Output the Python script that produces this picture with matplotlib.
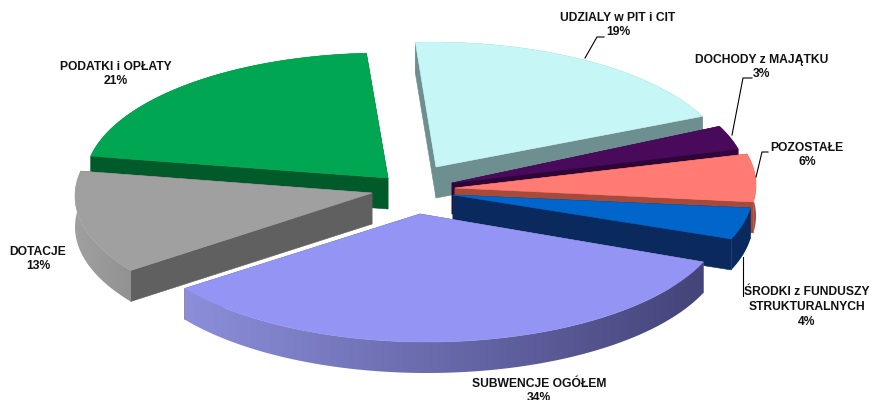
import numpy as np
import matplotlib
matplotlib.use('Agg')
import matplotlib.pyplot as plt
from matplotlib.colors import to_rgb
from matplotlib.patches import Polygon

plt.rcParams['font.family'] = ['Liberation Sans', 'DejaVu Sans']

labels = ['UDZIALY w PIT i CIT', 'DOCHODY z MAJĄTKU', 'POZOSTAŁE',
          'ŚRODKI z FUNDUSZY\nSTRUKTURALNYCH', 'SUBWENCJE OGÓŁEM', 'DOTACJE', 'PODATKI i OPŁATY']
shares = [19, 3, 6, 4, 34, 13, 21]

# pixel layout of the tilted pie
center = (440, 190)
rx, ry, depth = 298, 128, 31
start_angle = 93.2
shift_x = [-4, 12, 15, 13, -20, -68, -52]
shift_y = [-23, -7, -2, 5, 24, 3, -12]
arc_dx = [-4, -3, 3, 2, 7, 1, -5]
arc_dy = [3, -3, -3, -4, 0, 3, 3]
draw_order = [6, 0, 1, 2, 3, 5, 4]

top_colors = ['#c6f6f6', '#4a0a5c', '#ff7b73', '#0066cc', '#9494f4', '#a0a0a0', '#00a651']
cut_colors = ['#6e8f8f', '#2e0538', '#a84a3a', '#0a2a5e', '#5a5a90', '#606060', '#005a2a']
rim_left = ['#6e8f8f', '#3a0648', '#c06058', '#0a2a5e', '#8c8eda', '#a0a0a0', '#005a2a']
rim_right = ['#6e8f8f', '#2e0538', '#a04840', '#0a2a5e', '#44447a', '#929292', '#005a2a']

label_x = [618, 762, 807, 807, 539, 38, 116]
label_y = [25, 67, 155, 307, 391, 259, 74]
leaders = {
    0: ([585, 597, 604], [58, 37, 37]),
    1: ([732, 743, 752], [135, 78, 78]),
    2: ([756, 762, 768], [177, 152, 152]),
    3: ([743, 743], [257, 296]),
}

fig = plt.figure(figsize=(8.8, 4), dpi=100)
ax = fig.add_axes([0, 0, 1, 1])
ax.axis('off')

edges = start_angle - np.cumsum([0] + shares) * 3.6


def quad(x0, y0, x1, y1, color, z):
    ax.fill([x0, x1, x1, x0], [y0, y1, y1 + depth, y0 + depth],
            color=color, lw=0.4, zorder=z)


for rank, i in enumerate(draw_order):
    z = rank * 3 + 1
    px = center[0] + shift_x[i]
    py = center[1] + shift_y[i]
    t = np.radians(np.linspace(edges[i], edges[i + 1], 120))
    xs = px + arc_dx[i] + rx * np.cos(t)
    ys = py + arc_dy[i] - ry * np.sin(t)

    quad(px, py, xs[0], ys[0], cut_colors[i], z)
    quad(px, py, xs[-1], ys[-1], cut_colors[i], z)

    # outer rim, shaded from left to right
    mix = np.linspace(0, 1, 256)[None, :, None]
    light = np.array(to_rgb(rim_left[i]))[None, None, :]
    dark = np.array(to_rgb(rim_right[i]))[None, None, :]
    shade = light + (dark - light) * mix
    rim = Polygon(np.c_[np.r_[xs, xs[::-1]], np.r_[ys, ys[::-1] + depth]],
                  transform=ax.transData, fc='none', ec='none')
    ax.add_patch(rim)
    img = ax.imshow(shade, extent=(xs.min(), xs.max(), ys.max() + depth, ys.min()),
                    aspect='auto', zorder=z + 1, interpolation='bilinear')
    img.set_clip_path(rim)

    ax.fill(np.r_[px, xs], np.r_[py, ys], color=top_colors[i], lw=0.4, zorder=z + 2)

ax.set_xlim(0, 880)
ax.set_ylim(400, 0)

for i, name in enumerate(labels):
    ax.text(label_x[i], label_y[i], f'{name}\n{shares[i]}%', ha='center', va='center',
            fontsize=8.7, fontweight='bold', color='#111111', linespacing=1.3,
            zorder=50, clip_on=False)

for xs, ys in leaders.values():
    ax.plot(xs, ys, color='black', lw=0.8, zorder=40)

fig.savefig('out.png', dpi=100)
